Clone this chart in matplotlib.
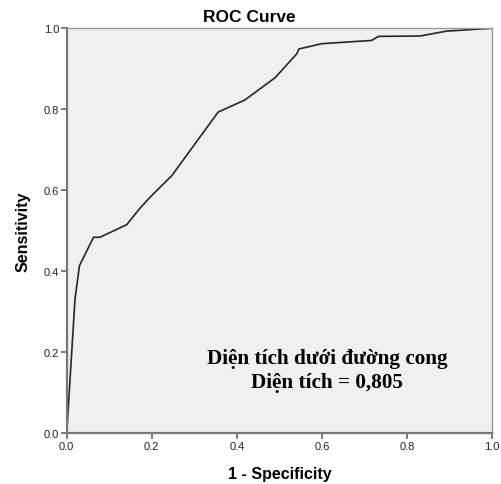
import matplotlib
matplotlib.use("Agg")
import matplotlib.pyplot as plt

# ROC points
fpr = [0.0, 0.0195, 0.030, 0.063, 0.078, 0.141, 0.170, 0.196, 0.247, 0.356,
       0.419, 0.490, 0.541, 0.546, 0.600, 0.717, 0.733, 0.831, 0.893, 1.0]
tpr = [0.0, 0.332, 0.414, 0.484, 0.484, 0.515, 0.553, 0.583, 0.636, 0.793,
       0.823, 0.878, 0.937, 0.949, 0.962, 0.970, 0.980, 0.981, 0.993, 1.0]
ticks = [0.0, 0.2, 0.4, 0.6, 0.8, 1.0]
tick_labels = ["0.0", "0.2", "0.4", "0.6", "0.8", "1.0"]

fig = plt.figure(figsize=(5.02, 4.85), dpi=100)
ax = fig.add_axes([0.1329, 0.1045, 0.8471, 0.8351])
ax.set_facecolor("#f0f0f0")

ax.plot(fpr, tpr, color="#262626", lw=1.2)

ax.set_xlim(0, 1)
ax.set_ylim(0, 1)
ax.set_xticks(ticks)
ax.set_yticks(ticks)
ax.set_xticklabels(tick_labels)
ax.set_yticklabels(tick_labels)
ax.tick_params(direction="out", length=4, width=1.2, color="#666666",
               labelsize=8, labelcolor="#222222", pad=1.5)
for lbl in ax.get_xticklabels() + ax.get_yticklabels():
    lbl.set_family("Liberation Sans")

for side in ["left", "bottom"]:
    ax.spines[side].set_color("#777777")
    ax.spines[side].set_linewidth(1.6)
for side in ["top", "right"]:
    ax.spines[side].set_color("#999999")
    ax.spines[side].set_linewidth(1.0)

# title sits over the middle of the figure, not of the axes
ax.set_title("ROC Curve", family="Liberation Sans", fontweight="bold",
             fontsize=12.5, pad=5)
ax.title.set_x(0.429)
ax.set_xlabel("1 - Specificity", family="Liberation Sans", fontweight="bold",
              fontsize=11.5)
ax.set_ylabel("Sensitivity", family="Liberation Sans", fontweight="bold",
              fontsize=11.5)
ax.xaxis.set_label_coords(0.5, -0.08)
ax.yaxis.set_label_coords(-0.085, 0.5)

ax.text(0.613, 0.185, "Diện tích dưới đường cong", family="Liberation Serif",
        fontweight="bold", fontsize=15.3, ha="center", va="center")
ax.text(0.613, 0.126, "Diện tích = 0,805", family="Liberation Serif",
        fontweight="bold", fontsize=15.3, ha="center", va="center")

fig.savefig("out.png", dpi=100)
